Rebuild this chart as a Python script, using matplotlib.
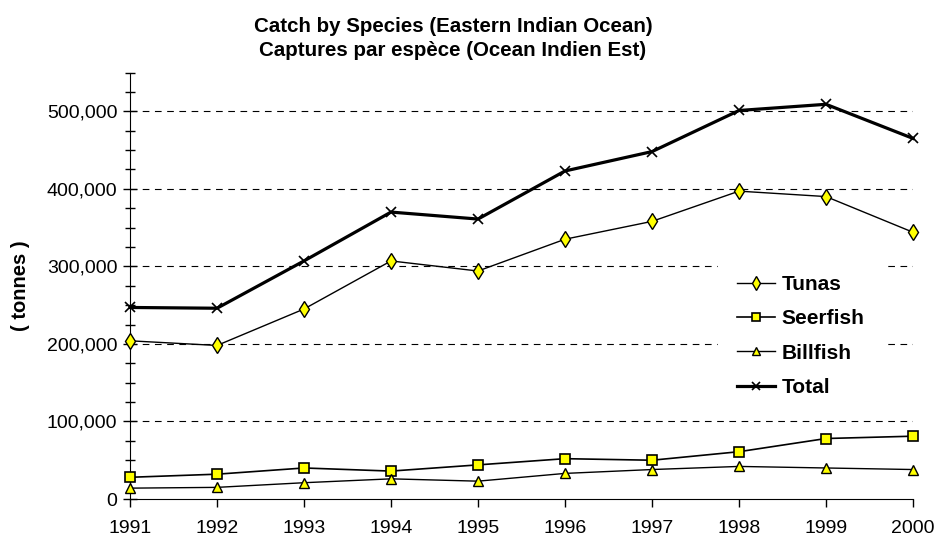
import matplotlib
matplotlib.use('Agg')
import matplotlib.pyplot as plt
from matplotlib.ticker import MultipleLocator, FuncFormatter

plt.rcParams['font.family'] = ['Liberation Sans', 'DejaVu Sans']

years = [1991, 1992, 1993, 1994, 1995, 1996, 1997, 1998, 1999, 2000]
tunas = [204000, 198000, 245000, 307000, 294000, 335000, 358000, 397000, 390000, 344000]
seerfish = [28000, 32000, 40000, 36000, 44000, 52000, 50000, 61000, 78000, 81000]
billfish = [14000, 15000, 21000, 26000, 23000, 33000, 38000, 42000, 40000, 38000]
total = [247000, 246000, 307000, 370000, 361000, 423000, 448000, 501000, 509000, 465000]

W, H = 936, 536
fig = plt.figure(figsize=(W / 100, H / 100), dpi=100)
ax = fig.add_axes([130 / W, 37 / H, 783 / W, 426.5 / H])

yel = '#FFFF00'
ax.plot(years, tunas, color='black', lw=1, marker='d', ms=8,
        mfc=yel, mec='black', mew=1, label='Tunas', clip_on=False, zorder=4)
ax.plot(years, seerfish, color='black', lw=1.2, marker='s', ms=7.5,
        mfc=yel, mec='black', mew=1.2, label='Seerfish', clip_on=False, zorder=4)
ax.plot(years, billfish, color='black', lw=1, marker='^', ms=7,
        mfc=yel, mec='black', mew=1, label='Billfish', clip_on=False, zorder=4)
ax.plot(years, total, color='black', lw=2.3, marker='x', ms=7.5,
        mew=1.2, label='Total', clip_on=False, zorder=5)

ax.set_xlim(1991, 2000)
ax.set_ylim(0, 550000)
ax.set_xticks(years)
ax.yaxis.set_major_locator(MultipleLocator(100000))
ax.yaxis.set_minor_locator(MultipleLocator(25000))
ax.yaxis.set_major_formatter(FuncFormatter(lambda v, p: f'{int(v):,}'))

for s in ['top', 'right']:
    ax.spines[s].set_visible(False)

ax.tick_params(axis='y', which='major', direction='inout', length=10, width=1,
               labelsize=14, pad=4)
ax.tick_params(axis='y', which='minor', direction='inout', length=7, width=1)
ax.tick_params(axis='x', which='major', direction='out', length=6, width=1,
               labelsize=14, pad=9)

for v in range(100000, 600000, 100000):
    ax.axhline(v, color='black', lw=0.8, ls=(0, (6, 5)), zorder=1)

ax.set_ylabel('( tonnes )', fontsize=14.5, fontweight='bold')
ax.yaxis.set_label_coords(-0.128, 0.5)

fig.text(453 / W, 1 - 26 / H, 'Catch by Species (Eastern Indian Ocean)',
         ha='center', va='center', fontsize=14.8, fontweight='bold')
fig.text(453 / W, 1 - 50 / H, 'Captures par espèce (Ocean Indien Est)',
         ha='center', va='center', fontsize=14.8, fontweight='bold')

leg = ax.legend(loc='center left', bbox_to_anchor=(708 / W, 1 - 336 / H),
                bbox_transform=fig.transFigure, frameon=True,
                facecolor='white', edgecolor='white', framealpha=1, fancybox=False,
                prop={'weight': 'bold', 'size': 15}, numpoints=1, markerscale=0.85,
                handlelength=1.83, handletextpad=0.3, labelspacing=0.74,
                borderpad=0.9)
leg.set_zorder(3)

fig.savefig('out.png', dpi=100)
